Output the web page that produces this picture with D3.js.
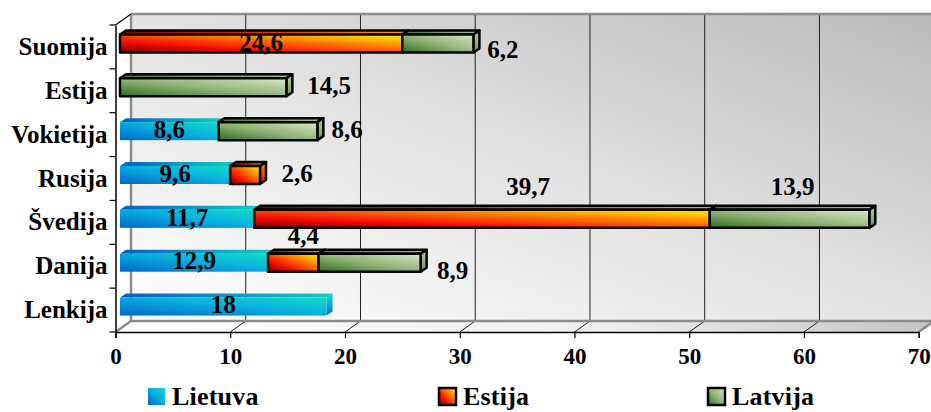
<!DOCTYPE html>
<html>
<head>
<meta charset="utf-8">
<script src="https://cdn.jsdelivr.net/npm/d3@7"></script>
<style>
html,body{margin:0;padding:0;background:#fff}
svg{display:block}
text{font-family:"Liberation Serif",serif;font-weight:bold;fill:#000}
</style>
</head>
<body>
<svg id="chart" width="931" height="412"></svg>
<script>
// Export shares by destination country, split by Baltic state of origin
const categories = ["Suomija","Estija","Vokietija","Rusija","Švedija","Danija","Lenkija"];
const seriesNames = ["Lietuva","Estija","Latvija"];
const lietuva = [0,0,8.6,9.6,11.7,12.9,18];
const estija  = [24.6,0,0,2.6,39.7,4.4,0];
const latvija = [6.2,14.5,8.6,0,13.9,8.9,0];
const xTicks = [0,10,20,30,40,50,60,70];

// Layout of the pseudo-3D box
const W = 931, H = 412;
const depthX = 15.5, depthY = -11;      // wall offset from the front axes
const barDX = 6, barDY = -4;            // extrusion of each bar
const barInset = 4.5, barShift = -3.5, barH = 18;

const svg = d3.select("#chart");
const x = d3.scaleLinear().domain([0,70]).range([115.5,918.7]);
const y = d3.scaleBand().domain(categories).range([25,332]);
const defs = svg.append("defs");

function gradient(id, stops, dir){
  const [x1,y1,x2,y2] = dir || [0,1,1,0];
  const g = defs.append("linearGradient").attr("id",id)
    .attr("x1",x1).attr("y1",y1).attr("x2",x2).attr("y2",y2);
  stops.forEach(s => g.append("stop").attr("offset",s[0]).attr("stop-color",s[1]));
}
gradient("wall",[[0,"#ffffff"],[0.5,"#e2e2e2"],[1,"#bababa"]]);
gradient("floor",[[0,"#ffffff"],[0.6,"#eeeeee"],[1,"#c4c4c4"]],[0,0,1,0]);
gradient("ltFront",[[0,"#0068c8"],[0.55,"#08b0e0"],[1,"#12dcc4"]]);
gradient("ltTop",[[0,"#0060c0"],[1,"#10d0c8"]],[0,0,1,0]);
gradient("ltSide",[[0,"#0078cc"],[1,"#14d8d8"]],[0,1,0,0]);
gradient("eeFront",[[0,"#7a0000"],[0.3,"#f80c00"],[0.55,"#ff6000"],[0.85,"#ffc800"],[1,"#ffe000"]]);
gradient("eeTop",[[0,"#8a0000"],[0.5,"#e83000"],[1,"#ffa000"]],[0,0,1,0]);
gradient("eeSide",[[0,"#e01000"],[1,"#ff9000"]],[0,1,0,0]);
gradient("lvFront",[[0,"#2c6e1e"],[0.45,"#8cb072"],[1,"#d8e8c8"]]);
gradient("lvTop",[[0,"#3f7a2c"],[1,"#a0c088"]],[0,0,1,0]);
gradient("lvSide",[[0,"#6c9a50"],[1,"#b4d09c"]],[0,1,0,0]);

const seriesStyle = [
  {front:"ltFront",top:"ltTop",side:"ltSide",stroke:"none",sw:0},
  {front:"eeFront",top:"eeTop",side:"eeSide",stroke:"#000",sw:2.5},
  {front:"lvFront",top:"lvTop",side:"lvSide",stroke:"#000",sw:2.5}
];

const poly = pts => pts.map(p => p.join(",")).join(" ");
const x0 = x(0), x1 = x(70), yTop = y.range()[0], yBot = y.range()[1];

// Back wall and floor
svg.append("rect").attr("x",x0+depthX).attr("y",yTop+depthY)
  .attr("width",W-x0-depthX).attr("height",yBot-yTop).attr("fill","url(#wall)");
svg.append("polygon")
  .attr("points",poly([[x0,yBot],[x1,yBot],[x1+depthX,yBot+depthY],[x0+depthX,yBot+depthY]]))
  .attr("fill","url(#floor)");

// Gridlines on the back wall, continued across the floor
const grid = svg.append("g");
grid.selectAll("line.wall").data(xTicks.slice(1,-1)).join("line").attr("class","wall")
  .attr("x1",d=>x(d)+depthX).attr("x2",d=>x(d)+depthX)
  .attr("y1",yTop+depthY).attr("y2",yBot+depthY)
  .attr("stroke","#222").attr("stroke-width",1);
grid.selectAll("line.floor").data(xTicks.slice(1,-1)).join("line").attr("class","floor")
  .attr("x1",d=>x(d)).attr("x2",d=>x(d)+depthX)
  .attr("y1",yBot).attr("y2",yBot+depthY)
  .attr("stroke","#222").attr("stroke-width",1);

// Grey wall frame
const frame = [
  [[x0+depthX,yTop+depthY],[W,yTop+depthY]],
  [[x0+depthX,yTop+depthY],[x0+depthX,yBot+depthY]],
  [[x0+depthX,yBot+depthY],[W,yBot+depthY]],
  [[x0,yBot],[x0+depthX,yBot+depthY]],
  [[x1,yBot],[x1+depthX,yBot+depthY]]
];
svg.append("g").selectAll("line").data(frame).join("line")
  .attr("x1",d=>d[0][0]).attr("y1",d=>d[0][1]).attr("x2",d=>d[1][0]).attr("y2",d=>d[1][1])
  .attr("stroke","#8c8c8c").attr("stroke-width",2.5);

// Stacked bars
const rows = categories.map((c,i)=>({category:c,Lietuva:lietuva[i],Estija:estija[i],Latvija:latvija[i]}));
const stacked = d3.stack().keys(seriesNames)(rows);
const barX = v => x(v) + barInset;
const barY = c => y(c) + y.bandwidth()/2 + barShift - barH/2;

const bars = svg.append("g");
stacked.forEach((layer,si)=>{
  const st = seriesStyle[si];
  const g = bars.append("g");
  layer.forEach(seg=>{
    if (seg[1]-seg[0] <= 0) return;
    const c = seg.data.category, l = barX(seg[0]), r = barX(seg[1]), t = barY(c), b = t+barH;
    const item = g.append("g").attr("stroke",st.stroke).attr("stroke-width",st.sw).attr("stroke-linejoin","round");
    item.append("polygon").attr("points",poly([[l,t],[l+barDX,t+barDY],[r+barDX,t+barDY],[r,t]])).attr("fill",`url(#${st.top})`);
    item.append("polygon").attr("points",poly([[r,t],[r+barDX,t+barDY],[r+barDX,b+barDY],[r,b]])).attr("fill",`url(#${st.side})`);
    item.append("rect").attr("x",l).attr("y",t).attr("width",r-l).attr("height",barH).attr("fill",`url(#${st.front})`);
  });
});

// Front axes
const tickFont = 23, categoryFont = 25, valueFont = 25;
const bottom = svg.append("g").attr("transform",`translate(0,${yBot})`)
  .call(d3.axisBottom(x).tickValues(xTicks).tickSize(6).tickPadding(10));
bottom.select(".domain").attr("stroke","#000").attr("stroke-width",1.5);
bottom.selectAll(".tick line").attr("stroke","#000").attr("stroke-width",1.2);
bottom.selectAll("text").attr("font-size",tickFont).style("font-family","'Liberation Serif',serif").style("font-weight","bold");

const left = svg.append("g").attr("transform",`translate(${x0},0)`)
  .call(d3.axisLeft(y).tickSize(0).tickPadding(8));
left.select(".domain").attr("stroke","#000").attr("stroke-width",1.5);
left.selectAll("text").attr("font-size",categoryFont).style("font-family","'Liberation Serif',serif").style("font-weight","bold");
svg.append("g").selectAll("line").data(d3.range(categories.length+1)).join("line")
  .attr("x1",x0-6).attr("x2",x0)
  .attr("y1",i=>yTop+i*y.step()).attr("y2",i=>yTop+i*y.step())
  .attr("stroke","#000").attr("stroke-width",1.2);
svg.append("line").attr("x1",x0).attr("y1",yTop).attr("x2",x0+depthX).attr("y2",yTop+depthY)
  .attr("stroke","#000").attr("stroke-width",1.2);

// Value labels: centred on the segment unless nudged clear of it
const labelNudge = {
  "Suomija|Estija":[0,1], "Suomija|Latvija":[65,8], "Estija|Latvija":[126,0], "Vokietija|Latvija":[79,0],
  "Rusija|Estija":[52,0], "Švedija|Estija":[46,-31], "Švedija|Latvija":[3,-31],
  "Danija|Estija":[10,-25], "Danija|Latvija":[83,10]
};
const labels = svg.append("g").attr("font-size",valueFont);
stacked.forEach((layer,si)=>{
  layer.forEach(seg=>{
    const v = seg[1]-seg[0];
    if (v <= 0) return;
    const c = seg.data.category;
    const n = labelNudge[c+"|"+seriesNames[si]] || [0,0];
    labels.append("text")
      .attr("x",(barX(seg[0])+barX(seg[1]))/2+n[0])
      .attr("y",barY(c)+barH/2+n[1]+1)
      .attr("text-anchor","middle").attr("dominant-baseline","middle")
      .text(String(seg.data[seriesNames[si]]).replace(".",","));
  });
});

// Legend
const legendPos = {Lietuva:148, Estija:439, Latvija:708};
const legend = svg.append("g");
seriesNames.forEach((name,i)=>{
  const st = seriesStyle[i], sx = legendPos[name];
  legend.append("rect").attr("x",sx).attr("y",388).attr("width",17).attr("height",17)
    .attr("fill",`url(#${st.front})`).attr("stroke",st.stroke).attr("stroke-width",st.sw);
  legend.append("text").attr("x",sx+24).attr("y",405).attr("font-size",26).attr("letter-spacing",0.2).text(name);
});
</script>
</body>
</html>
